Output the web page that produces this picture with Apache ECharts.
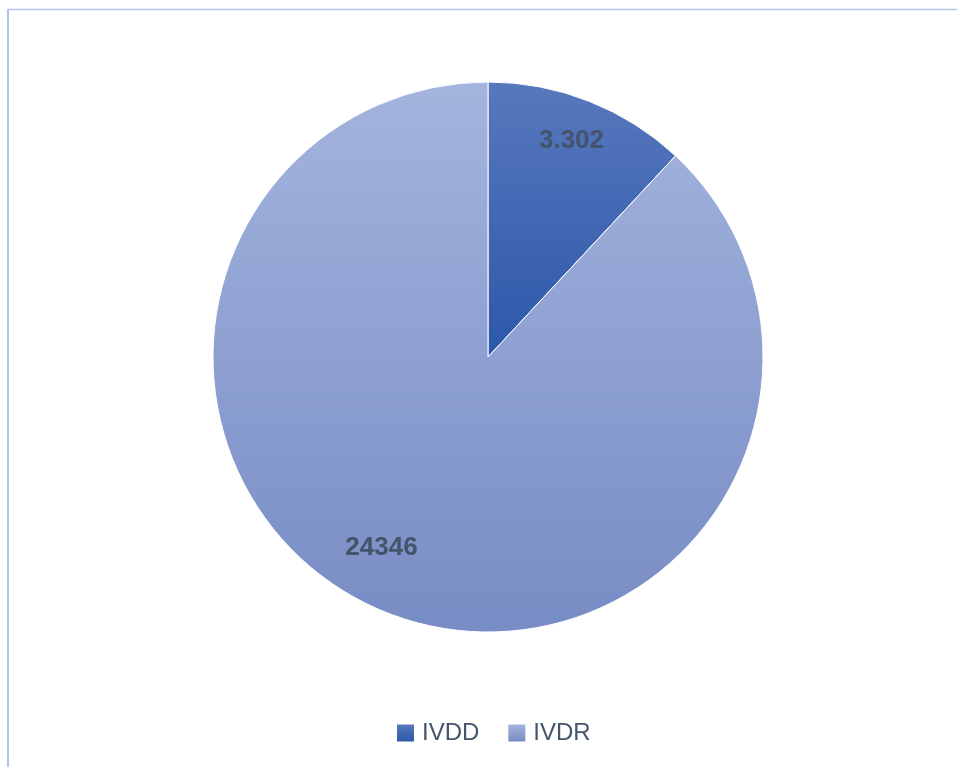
<!DOCTYPE html>
<html>
<head>
<meta charset="utf-8">
<script src="https://cdn.jsdelivr.net/npm/echarts@6/dist/echarts.min.js"></script>
<style>
  html, body { margin: 0; padding: 0; background: #ffffff; }
  #chart { width: 957px; height: 767px; }
</style>
</head>
<body>
<div id="chart"></div>
<script>
// Categories and values of the pie
const categories = ['IVDD', 'IVDR'];
const values = [3302, 24346];
// Value labels as printed on the slices
const valueLabels = ['3.302', '24346'];

// Vertical gradient stops per slice (top, bottom)
const sliceColors = [
  ['#5878bd', '#2c57aa'],
  ['#a3b4dd', '#788cc5']
];
// Offsets moving each label from the mid-radius point
const labelShift = [[32, -85], [-55, 60]];

const chart = echarts.init(document.getElementById('chart'), null, { renderer: 'canvas' });

const grad = (c) => new echarts.graphic.LinearGradient(0, 0, 0, 1, [
  { offset: 0, color: c[0] },
  { offset: 1, color: c[1] }
]);

const option = {
  animation: false,
  backgroundColor: '#ffffff',
  graphic: [
    { type: 'line', shape: { x1: 8, y1: 9.5, x2: 957, y2: 9.5 }, style: { stroke: '#b4c6e7', lineWidth: 1.5 } },
    { type: 'line', shape: { x1: 8, y1: 9, x2: 8, y2: 767 }, style: { stroke: '#b4c6e7', lineWidth: 2 } }
  ],
  legend: {
    data: categories,
    left: 397,
    top: 721,
    padding: 0,
    itemWidth: 17,
    itemHeight: 17,
    itemGap: 29,
    icon: 'rect',
    itemStyle: { borderWidth: 0 },
    textStyle: {
      fontFamily: 'Liberation Sans',
      fontSize: 24,
      color: '#44546a',
      padding: [0, 0, 0, 3]
    }
  },
  series: [{
    type: 'pie',
    center: [488, 357],
    radius: [0, 275],
    startAngle: 90,
    clockwise: true,
    avoidLabelOverlap: false,
    itemStyle: { borderColor: '#ffffff', borderWidth: 1 },
    label: {
      show: true,
      position: 'inside',
      fontFamily: 'Liberation Sans',
      fontWeight: 'bold',
      fontSize: 26,
      color: '#44546a',
      formatter: (p) => valueLabels[p.dataIndex]
    },
    labelLine: { show: false },
    labelLayout: (p) => ({ dx: labelShift[p.dataIndex][0], dy: labelShift[p.dataIndex][1] }),
    emphasis: { disabled: true },
    data: categories.map((name, i) => ({
      name: name,
      value: values[i],
      itemStyle: { color: grad(sliceColors[i]) }
    }))
  }]
};

chart.setOption(option);
</script>
</body>
</html>
